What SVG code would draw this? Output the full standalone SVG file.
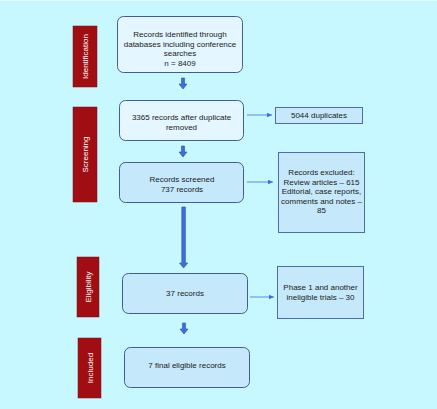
<svg xmlns="http://www.w3.org/2000/svg" width="437" height="409" viewBox="0 0 437 409">
<defs>
<style>
.bg{fill:#c7f8ff}
.bar{fill:#a00d12;stroke:#7a1014;stroke-width:0.5}
.bt{font-family:"Liberation Sans",Arial,sans-serif;font-size:8px;fill:#ffffff;text-anchor:middle}
.b1{fill:#e4f6ff;stroke:#3d5f95;stroke-width:1}
.b2{fill:#c6e8fb;stroke:#3d5f95;stroke-width:1}
.sb{fill:#c6e8fb;stroke:#4a6ea5;stroke-width:1}
.t{font-family:"Liberation Sans",Arial,sans-serif;font-size:8px;fill:#1a1a1a;text-anchor:middle}
.fat{fill:#3b6fe0;stroke:#2a4fa8;stroke-width:0.6}
.thin{stroke:#5b8be2;stroke-width:1;fill:none}
</style>
<marker id="ah" markerWidth="6" markerHeight="6" refX="5" refY="3" orient="auto" markerUnits="userSpaceOnUse">
<path d="M0,0.8 L5,3 L0,5.2 Z" fill="#3b6fe0"/>
</marker>
</defs>
<rect class="bg" x="0" y="0" width="437" height="409"/>
<rect x="0" y="0" width="437" height="1" fill="#dcfbff"/>

<g id="phase-identification">
<rect class="bar" x="73" y="26" width="24" height="61"/>
<text class="bt" transform="translate(88,56.5) rotate(-90)">Identification</text>
</g>
<g id="phase-screening">
<rect class="bar" x="73" y="107" width="24" height="95"/>
<text class="bt" transform="translate(88,154.5) rotate(-90)">Screening</text>
</g>
<g id="phase-eligibility">
<rect class="bar" x="77" y="257" width="22" height="60"/>
<text class="bt" transform="translate(91,287) rotate(-90)">Eligibility</text>
</g>
<g id="phase-included">
<rect class="bar" x="78" y="338" width="23" height="60"/>
<text class="bt" transform="translate(92.5,368) rotate(-90)">Included</text>
</g>

<g id="n1">
<rect class="b1" x="117.5" y="16.5" width="125" height="56" rx="6"/>
<text class="t" x="180" y="37">Records identified through</text>
<text class="t" x="180" y="46.5">databases including conference</text>
<text class="t" x="180" y="56">searches</text>
<text class="t" x="180" y="65.5">n = 8409</text>
</g>
<g id="n2">
<rect class="b1" x="119.5" y="100.5" width="124" height="40" rx="6"/>
<text class="t" x="181.5" y="120">3365 records after duplicate</text>
<text class="t" x="181.5" y="129.5">removed</text>
</g>
<g id="n3">
<rect class="b2" x="119.5" y="162.5" width="124" height="40" rx="6"/>
<text class="t" x="182" y="182">Records screened</text>
<text class="t" x="182" y="191.5">737 records</text>
</g>
<g id="n4">
<rect class="b2" x="122.5" y="273.5" width="125" height="40" rx="6"/>
<text class="t" x="185" y="296">37 records</text>
</g>
<g id="n5">
<rect class="b2" x="124.5" y="347.5" width="125" height="40" rx="6"/>
<text class="t" x="187" y="368">7 final eligible records</text>
</g>

<g id="s1">
<rect class="sb" x="275.5" y="107.5" width="87" height="16"/>
<text class="t" x="319" y="118">5044 duplicates</text>
</g>
<g id="s2">
<rect class="sb" x="278.5" y="152.5" width="86" height="80"/>
<text class="t" x="321.5" y="175">Records excluded:</text>
<text class="t" x="321.5" y="184.5">Review articles – 615</text>
<text class="t" x="321.5" y="194">Editorial, case reports,</text>
<text class="t" x="321.5" y="203.5">comments and notes –</text>
<text class="t" x="321.5" y="213">85</text>
</g>
<g id="s3">
<rect class="sb" x="277.5" y="266.5" width="86" height="52"/>
<text class="t" x="320.5" y="290">Phase 1 and another</text>
<text class="t" x="320.5" y="299.5">ineligible trials – 30</text>
</g>

<g id="connectors">
<path class="fat" d="M181.5,78 h3 v6 h2.5 l-4,5 l-4,-5 h2.5 z"/>
<path class="fat" d="M181.5,146 h3 v6 h2.5 l-4,5 l-4,-5 h2.5 z"/>
<path class="fat" d="M181.8,207 h3.6 v56 h2.3 l-4.1,5 l-4.1,-5 h2.3 z"/>
<path class="fat" d="M182.5,323 h3 v6 h2.5 l-4,5 l-4,-5 h2.5 z"/>
<line class="thin" x1="247" y1="115" x2="272" y2="115" marker-end="url(#ah)"/>
<line class="thin" x1="247" y1="182" x2="273" y2="182" marker-end="url(#ah)"/>
<line class="thin" x1="250" y1="297" x2="274" y2="297" marker-end="url(#ah)"/>
</g>
</svg>
